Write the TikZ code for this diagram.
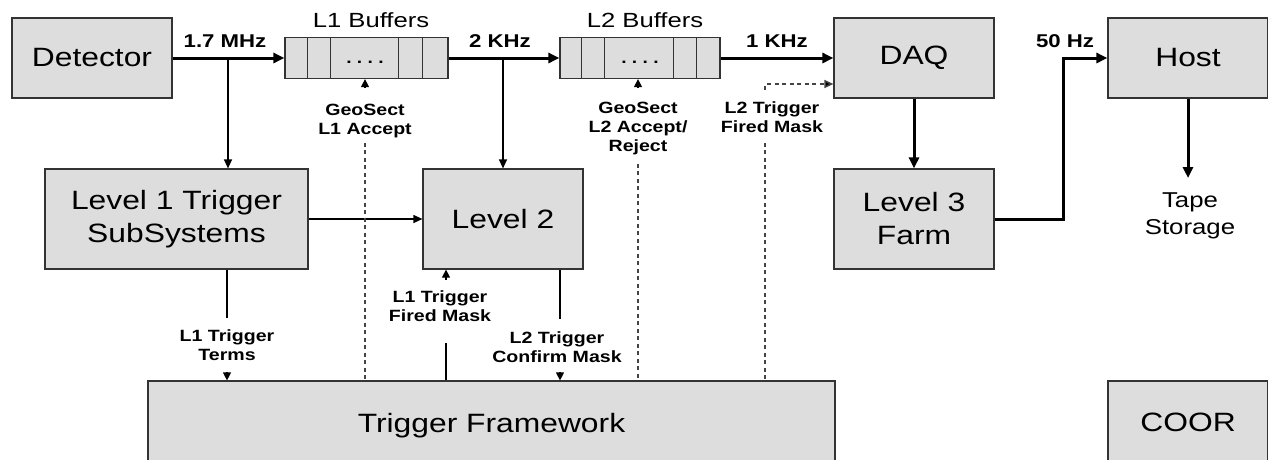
\documentclass[tikz,border=0pt]{standalone}
\usepackage{fontspec}
\setmainfont{Liberation Sans}[FakeStretch=1.2]
\newfontfamily\buffont{Liberation Sans}[FakeStretch=1.25]
\usetikzlibrary{arrows.meta,calc}
\definecolor{boxfill}{HTML}{DDDDDD}
\definecolor{boxline}{HTML}{333333}
\definecolor{dashcol}{HTML}{444444}
\begin{document}
\begin{tikzpicture}[x=1pt,y=-1pt,
 box/.style={draw=boxline,fill=boxfill,line width=1.2pt,inner sep=0pt,align=center,font=\fontsize{26.5}{33}\selectfont},
 lbl/.style={inner sep=0pt,align=center,anchor=north,font=\fontsize{16.3}{19}\selectfont\bfseries},
 rate/.style={inner sep=0pt,anchor=base,font=\fontsize{18.5}{22}\selectfont\bfseries},
 buftitle/.style={inner sep=0pt,anchor=base,font=\buffont\fontsize{20.5}{24}\selectfont},
 thickarr/.style={line width=3pt,-{Triangle[length=11pt,width=10pt]}},
 thinarr/.style={line width=1.2pt,-{Triangle[length=9pt,width=8pt]}},
 thinline/.style={line width=1.2pt},
 tiparr/.style={line width=1.2pt,-{Triangle[length=8pt,width=8pt]}},
 dashline/.style={draw=dashcol,line width=1.5pt,dash pattern=on 4pt off 3.5pt},
 part/.style={draw=boxline,line width=1.2pt}
]
\fill[white] (0,0) rectangle (1268,459);
\useasboundingbox (0,0) rectangle (1268,459);

% boxes
\node[box,minimum width=160pt,minimum height=80pt] (det) at (92,58) {Detector};
\node[box,minimum width=163pt,minimum height=41pt] (b1) at (366.5,58) {};
\node[box,minimum width=160pt,minimum height=41pt] (b2) at (640,58) {};
\foreach \o in {23,46,114,138} \draw[part] ([xshift=\o pt]b1.north west) -- ([xshift=\o pt]b1.south west);
\foreach \o in {22,45,114,137} \draw[part] ([xshift=\o pt]b2.north west) -- ([xshift=\o pt]b2.south west);
\node[box,minimum width=160pt,minimum height=80pt] (daq) at (914,58) {DAQ};
\node[box,minimum width=160pt,minimum height=80pt] (host) at (1188,58) {Host};
\node[box,minimum width=263pt,minimum height=100pt] (l1t) at (176.5,219) {Level 1 Trigger\\SubSystems};
\node[box,minimum width=160pt,minimum height=100pt] (l2) at (503,219) {Level 2};
\node[box,minimum width=160pt,minimum height=100pt] (l3) at (914,219) {Level 3\\Farm};
\node[box,minimum width=687pt,minimum height=89pt] (fw) at (491.5,425.5) {Trigger Framework};
\node[box,minimum width=160pt,minimum height=82pt] (coor) at (1188,422) {COOR};
\node[inner sep=0pt,anchor=north,align=center,font=\fontsize{21.5}{27}\selectfont] (tape) at (1190,192) {Tape\\Storage};

% dots in buffers
\node[anchor=base,inner sep=0pt,font=\fontsize{16}{19}\selectfont\bfseries] (d1) at (365,63) {.\ .\ .\ .};
\node[anchor=base,inner sep=0pt,font=\fontsize{16}{19}\selectfont\bfseries] (d2) at (640,63) {.\ .\ .\ .};

% titles and rates
\node[buftitle] (b1t) at (371,27) {L1 Buffers};
\node[buftitle] (b2t) at (645,27) {L2 Buffers};
\node[rate] (r1) at (225,47) {1.7 MHz};
\node[rate] (r2) at (500,47) {2 KHz};
\node[rate] (r3) at (777,47) {1 KHz};
\node[rate] (r4) at (1065,47) {50 Hz};

% labels
\node[lbl] (geo1) at (365,103.5) {GeoSect\\L1 Accept};
\node[lbl] (geo2) at (638,101.5) {GeoSect\\L2 Accept/\\Reject};
\node[lbl] (l2fm) at (772,101.5) {L2 Trigger\\Fired Mask};
\node[lbl] (l1fm) at (440,290.5) {L1 Trigger\\Fired Mask};
\node[lbl] (l2cm) at (557,331.5) {L2 Trigger\\Confirm Mask};
\node[lbl] (terms) at (227,329.5) {L1 Trigger\\Terms};

% helper coordinates
\coordinate (br1) at (228,58);
\coordinate (c50) at (1063,58);
\coordinate (dmx) at (765,0);
\coordinate (cx) at (560,0);
\coordinate (fx) at (446,0);

% main data path
\draw[thickarr] (det.east) -- (b1.west);
\draw[thickarr] (b1.east) -- (b2.west);
\draw[thickarr] (b2.east) -- (daq.west);
\draw[thickarr] (daq.south) -- (l3.north);
\draw[thickarr] (l3.east) -| (c50) -- (host.west);
\draw[thickarr] (host.south) -- ([yshift=14pt]tape.north -| host.south);

% branches
\draw[thinarr] (br1) -- (br1 |- l1t.north);
\draw[thinarr] (l2.north |- b1.east) -- (l2.north);
\draw[thinarr] (l1t.east) -- (l2.west);

% label arrows into buffers
\draw[tiparr,shorten <=16pt] (geo1.north) -- (b1.south -| geo1.north);
\draw[tiparr,shorten <=14pt] (geo2.north) -- (b2.south -| geo2.north);

% dashed lines
\draw[dashline,shorten <=5pt] (geo1.south) -- (fw.north -| geo1.south);
\draw[dashline,shorten <=9pt] (geo2.south) -- (fw.north -| geo2.south);
\draw[dashline,shorten <=10pt] (l2fm.south -| dmx) -- (fw.north -| dmx);
\draw[dashline,shorten <=12pt,-{Triangle[length=9pt,width=8pt,fill=black]}] (l2fm.north -| dmx) |- ([yshift=-26pt]daq.west);

% trigger framework links
\draw[thinline,shorten >=11.5pt] (l1t.south -| terms.north) -- (terms.north);
\draw[tiparr,shorten <=11pt] (terms.south) -- (fw.north -| terms.south);
\draw[thinline,shorten >=13pt] (l2.south -| cx) -- (l2cm.north -| cx);
\draw[tiparr,shorten <=9pt] (l2cm.south -| cx) -- (fw.north -| cx);
\draw[tiparr,shorten <=11pt] (l1fm.north -| fx) -- (l2.south -| fx);
\draw[thinline,shorten <=21pt] (l1fm.south -| fx) -- (fw.north -| fx);
\end{tikzpicture}
\end{document}
